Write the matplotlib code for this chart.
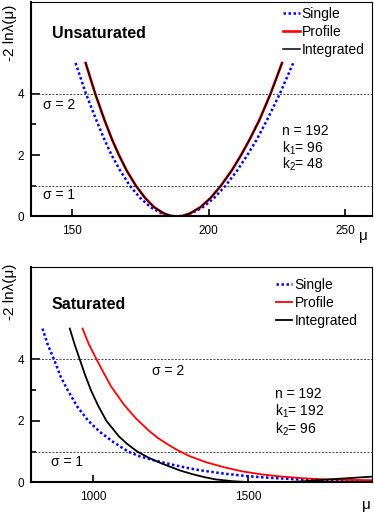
import matplotlib
matplotlib.use("Agg")
import matplotlib.pyplot as plt
from matplotlib.ticker import FixedLocator

plt.rcParams['font.family'] = ['Liberation Sans', 'DejaVu Sans']
plt.rcParams['mathtext.default'] = 'regular'

# values
# top panel, unsaturated (n=192, k1=96, k2=48)
mu_single_u = [151.3, 155.1, 158.9, 161.9, 164.5, 167.6, 171.2, 175.0, 178.8, 182.8, 185.9,
               188.3, 190.7, 193.7, 197.9, 202.0, 206.2, 210.5, 214.2, 217.6, 221.4, 226.1, 231.0]
nll_single_u = [5.0, 4.0, 3.14, 2.5, 2.0, 1.5, 1.0, 0.6, 0.3, 0.1, 0.02,
                0.0, 0.02, 0.1, 0.3, 0.6, 1.0, 1.5, 2.0, 2.5, 3.14, 4.0, 5.0]
mu_profile_u = [155.0, 158.5, 161.9, 164.7, 167.2, 170.0, 173.4, 176.8, 180.1, 183.6, 186.2,
                188.3, 190.5, 193.2, 197.0, 200.7, 204.5, 208.5, 211.9, 215.0, 218.6, 222.7, 226.9]
nll_profile_u = [5.0, 4.0, 3.14, 2.5, 2.0, 1.5, 1.0, 0.6, 0.3, 0.1, 0.02,
                 0.0, 0.02, 0.1, 0.3, 0.6, 1.0, 1.5, 2.0, 2.5, 3.14, 4.0, 5.0]
mu_integ_u = [155.0, 158.5, 161.9, 164.7, 167.2, 170.0, 173.4, 176.8, 180.1, 183.6, 186.2,
              188.3, 190.5, 193.2, 197.0, 200.7, 204.5, 208.5, 211.9, 215.0, 218.6, 222.7, 226.9]
nll_integ_u = [5.0, 4.0, 3.14, 2.5, 2.0, 1.5, 1.0, 0.6, 0.3, 0.1, 0.02,
               0.0, 0.02, 0.1, 0.3, 0.6, 1.0, 1.5, 2.0, 2.5, 3.14, 4.0, 5.0]

# bottom panel, saturated (n=192, k1=192, k2=96)
mu_single_s = [837, 855, 874, 895, 918, 950, 985, 1020, 1060, 1090, 1114, 1150, 1200,
               1246, 1300, 1342, 1420, 1502, 1580, 1662, 1740, 1823, 1900]
nll_single_s = [5.0, 4.45, 4.0, 3.45, 3.0, 2.45, 2.0, 1.66, 1.35, 1.15, 1.0, 0.85, 0.71,
                0.6, 0.48, 0.4, 0.29, 0.2, 0.145, 0.1, 0.07, 0.05, 0.035]
mu_profile_s = [966, 986, 1009, 1032, 1058, 1100, 1140, 1180, 1208, 1240, 1274, 1310,
                1363, 1420, 1481, 1545, 1609, 1680, 1750, 1820, 1900]
nll_profile_s = [5.0, 4.5, 4.04, 3.6, 3.12, 2.52, 2.06, 1.68, 1.45, 1.24, 1.04, 0.86,
                 0.66, 0.5, 0.36, 0.26, 0.19, 0.135, 0.1, 0.085, 0.075]
mu_integ_s = [925, 940, 957, 974, 993, 1016, 1043, 1083, 1110, 1143, 1180, 1220, 1246,
              1280, 1320, 1360, 1395, 1450, 1502, 1560, 1620, 1680, 1737, 1800, 1860, 1900]
nll_integ_s = [5.0, 4.5, 4.0, 3.5, 3.0, 2.5, 2.0, 1.5, 1.25, 1.0, 0.8, 0.62, 0.52,
               0.39, 0.27, 0.17, 0.1, 0.04, 0.012, 0.0, 0.01, 0.04, 0.085, 0.125, 0.165, 0.19]

sigma_levels = [1, 4]
info_u = ["n = 192", "k$_1$= 96", "k$_2$= 48"]
info_s = ["n = 192", "k$_1$= 192", "k$_2$= 96"]

fig = plt.figure(figsize=(3.74, 5.13), dpi=100)
ax1 = fig.add_axes([0.0829, 0.578, 0.913, 0.419])
ax2 = fig.add_axes([0.0829, 0.0595, 0.913, 0.420])


def style_axes(ax, xlim, xticks):
    ax.set_xlim(*xlim)
    ax.set_ylim(0, 7)
    ax.xaxis.set_major_locator(FixedLocator(xticks))
    ax.yaxis.set_major_locator(FixedLocator([0, 2, 4]))
    ax.yaxis.set_minor_locator(FixedLocator([1, 3]))
    ax.tick_params(axis='both', which='both', direction='in', labelsize=8.5, width=1.2)
    ax.tick_params(axis='y', which='major', length=6.5, pad=5)
    ax.tick_params(axis='y', which='minor', length=3.5)
    ax.tick_params(axis='x', which='major', length=5, pad=6)
    ax.spines['left'].set_linewidth(1.5)
    ax.spines['bottom'].set_linewidth(1.5)
    ax.spines['top'].set_linewidth(0.8)
    ax.spines['right'].set_linewidth(0.8)
    for lvl in sigma_levels:
        ax.axhline(lvl, color='#444444', lw=0.7, ls=(0, (2.0, 1.6)))


style_axes(ax1, (135, 260), [150, 200, 250])
style_axes(ax2, (800, 1900), [1000, 1500])

# top panel
ax1.plot(mu_single_u, nll_single_u, color='blue', lw=1.8, ls=(0, (1, 1)), label='Single')
ax1.plot(mu_profile_u, nll_profile_u, color='red', lw=1.9, label='Profile')
ax1.plot(mu_integ_u, nll_integ_u, color='black', lw=1.1, label='Integrated')

# bottom panel
ax2.plot(mu_single_s, nll_single_s, color='blue', lw=1.8, ls=(0, (1, 1)), label='Single')
ax2.plot(mu_profile_s, nll_profile_s, color='red', lw=1.3, label='Profile')
ax2.plot(mu_integ_s, nll_integ_s, color='black', lw=1.3, label='Integrated')

for ax, anchor in [(ax1, (0.738, 0.975)), (ax2, (0.717, 0.95))]:
    ax.legend(loc='upper left', bbox_to_anchor=anchor, frameon=False, fontsize=10,
              handlelength=1.2, handletextpad=0.15, labelspacing=0.3,
              borderpad=0, borderaxespad=0)

ax1.text(0.0615, 0.853, "Unsaturated", transform=ax1.transAxes, fontsize=11.5,
         fontweight='bold', va='center', ha='left')
ax2.text(0.0615, 0.828, "Saturated", transform=ax2.transAxes, fontsize=11.5,
         fontweight='bold', va='center', ha='left')

ax1.text(0.035, 0.519, "σ = 2", transform=ax1.transAxes, fontsize=10, va='center')
ax1.text(0.035, 0.10, "σ = 1", transform=ax1.transAxes, fontsize=10, va='center')
ax2.text(0.354, 0.519, "σ = 2", transform=ax2.transAxes, fontsize=10, va='center')
ax2.text(0.0586, 0.095, "σ = 1", transform=ax2.transAxes, fontsize=10, va='center')

for txt, yy in zip(info_u, [0.398, 0.319, 0.244]):
    ax1.text(0.735, yy, txt, transform=ax1.transAxes, fontsize=10, va='center')
for txt, yy in zip(info_s, [0.409, 0.332, 0.248]):
    ax2.text(0.7145, yy, txt, transform=ax2.transAxes, fontsize=10, va='center')

fig.text(0.971, 0.54, "μ", fontsize=11, ha='center', va='center')
fig.text(0.979, 0.0156, "μ", fontsize=11, ha='center', va='center')
fig.text(0.027, 0.936, "-2 lnλ(μ)", fontsize=11, rotation=90, ha='center', va='center')
fig.text(0.027, 0.431, "-2 lnλ(μ)", fontsize=11, rotation=90, ha='center', va='center')

fig.savefig("out.png", dpi=100)
